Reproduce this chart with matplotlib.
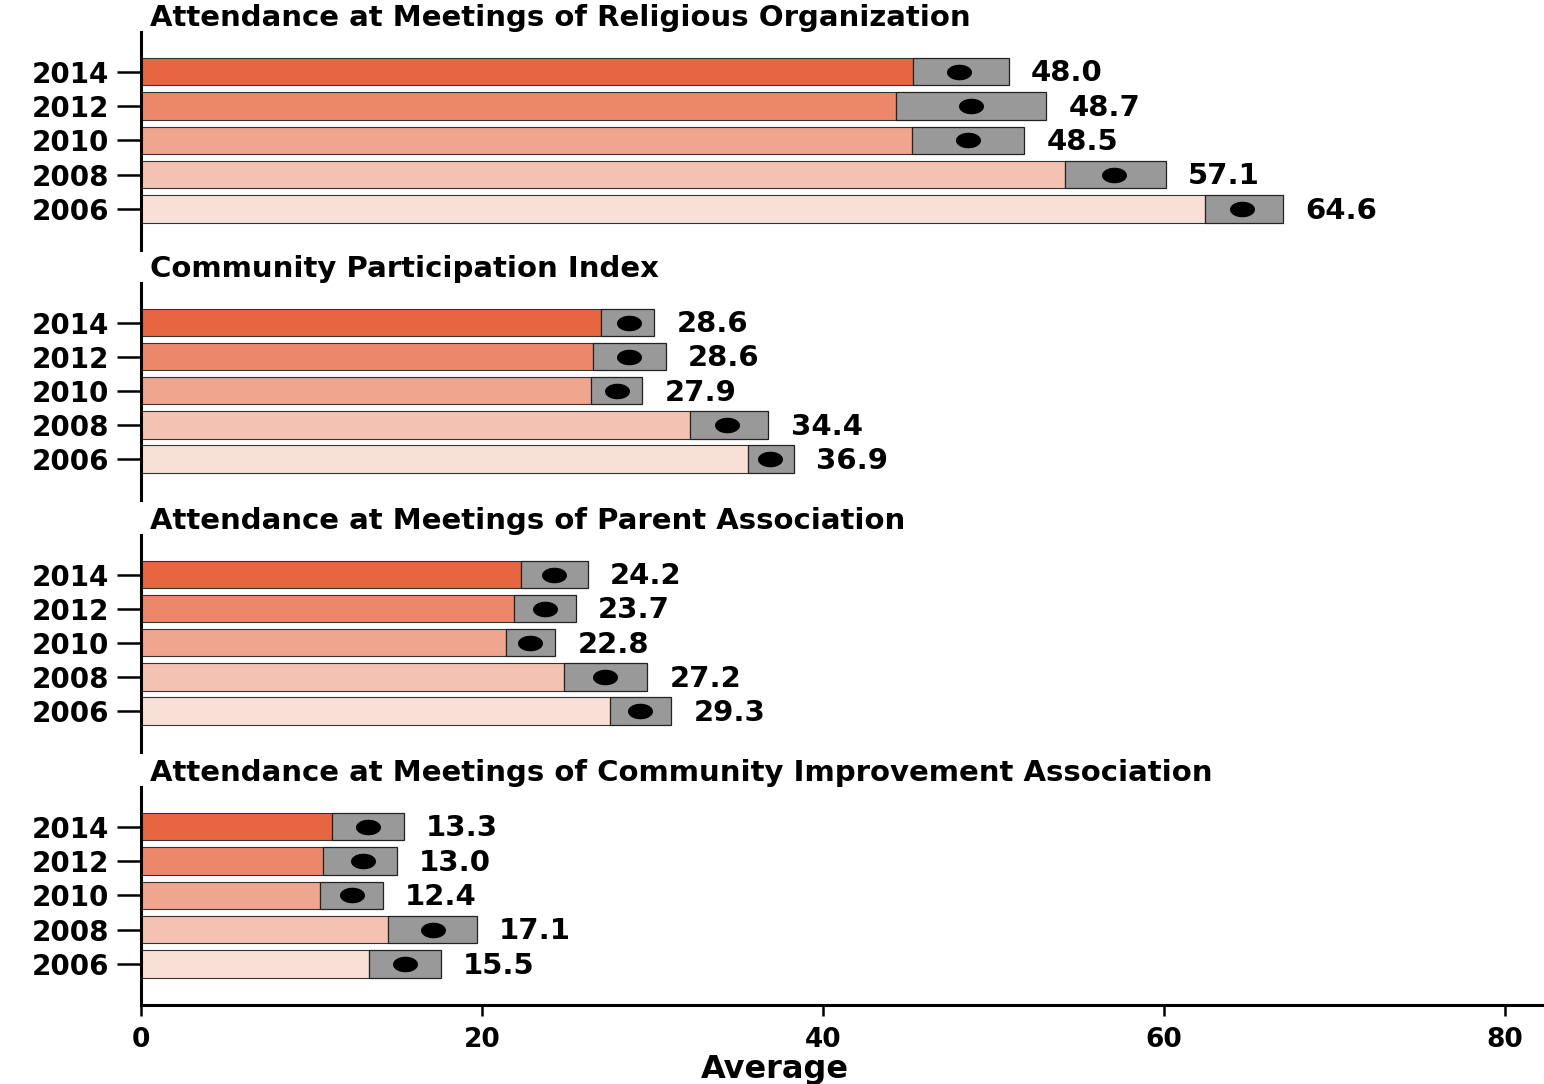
import numpy as np
import matplotlib
matplotlib.use('Agg')
import matplotlib.pyplot as plt

# ---- Data ----
years = ['2014', '2012', '2010', '2008', '2006']
titles = [
    'Attendance at Meetings of Religious Organization',
    'Community Participation Index',
    'Attendance at Meetings of Parent Association',
    'Attendance at Meetings of Community Improvement Association',
]

religious_mean = [48.0, 48.7, 48.5, 57.1, 64.6]
religious_low = [45.3, 44.3, 45.2, 54.2, 62.4]
religious_high = [50.9, 53.1, 51.8, 60.1, 67.0]

community_mean = [28.6, 28.6, 27.9, 34.4, 36.9]
community_low = [27.0, 26.5, 26.4, 32.2, 35.6]
community_high = [30.1, 30.8, 29.4, 36.8, 38.3]

parent_mean = [24.2, 23.7, 22.8, 27.2, 29.3]
parent_low = [22.3, 21.9, 21.4, 24.8, 27.5]
parent_high = [26.2, 25.5, 24.3, 29.7, 31.1]

improve_mean = [13.3, 13.0, 12.4, 17.1, 15.5]
improve_low = [11.2, 10.7, 10.5, 14.5, 13.4]
improve_high = [15.4, 15.0, 14.2, 19.7, 17.6]

means = [religious_mean, community_mean, parent_mean, improve_mean]
lows = [religious_low, community_low, parent_low, improve_low]
highs = [religious_high, community_high, parent_high, improve_high]

bar_colors = ['#E66641', '#EC8869', '#F0A58E', '#F4C2B2', '#F9E0D7']

# ellipse-shaped marker (dots look wider than tall in the reference)
th = np.linspace(0, 2 * np.pi, 40)
dot = list(zip(np.cos(th), 0.6 * np.sin(th)))

W, H = 1544, 1084
fig = plt.figure(figsize=(W / 100, H / 100), dpi=100)

panel_px = [(32, 250), (283, 500), (535, 752), (787, 1005)]
left_px = 141
font = 'DejaVu Sans'

ypos = np.arange(len(years))[::-1]  # 2014 on top

for k, (top, bot) in enumerate(panel_px):
    ax = fig.add_axes([left_px / W, 1 - bot / H, 1 - left_px / W, (bot - top) / H])
    m, lo, hi = means[k], lows[k], highs[k]
    ax.barh(ypos, lo, height=0.8, color=bar_colors, edgecolor='#333333', linewidth=0.8)
    ax.barh(ypos, np.array(hi) - np.array(lo), left=lo, height=0.8,
            color='#999999', edgecolor='#222222', linewidth=0.9)
    ax.plot(m, ypos, linestyle='none', marker=dot, markersize=17, color='black')
    for y, h, v in zip(ypos, hi, m):
        ax.text(h + 1.3, y - 0.05, f'{v:.1f}', va='center', ha='left',
                fontsize=21, fontweight='bold', family=font)

    ax.set_xlim(0, 82.3)
    ax.set_ylim(-1.2, 5.16)
    ax.set_yticks(ypos)
    ax.set_yticklabels(years, fontsize=20, fontweight='bold', family=font)
    ax.tick_params(axis='y', length=17, width=1.8, pad=6)
    ax.spines['left'].set_linewidth(2.2)
    ax.spines['right'].set_visible(False)
    ax.spines['top'].set_visible(False)
    ax.text(0.0065, 1 + 14 / (bot - top), titles[k], transform=ax.transAxes,
            ha='left', va='center', fontsize=21, fontweight='bold', family=font)

    if k < 3:
        ax.spines['bottom'].set_visible(False)
        ax.set_xticks([])
    else:
        ax.spines['bottom'].set_linewidth(2.2)
        ax.set_xticks([0, 20, 40, 60, 80])
        ax.set_xticklabels(['0', '20', '40', '60', '80'], fontsize=19,
                           fontweight='bold', family=font)
        ax.tick_params(axis='x', length=8, width=1.8, pad=8)
        ax.set_xlabel('Average', fontsize=23, fontweight='bold', family=font)
        ax.xaxis.set_label_coords(0.452, -0.225)

fig.savefig('out.png', dpi=100)
